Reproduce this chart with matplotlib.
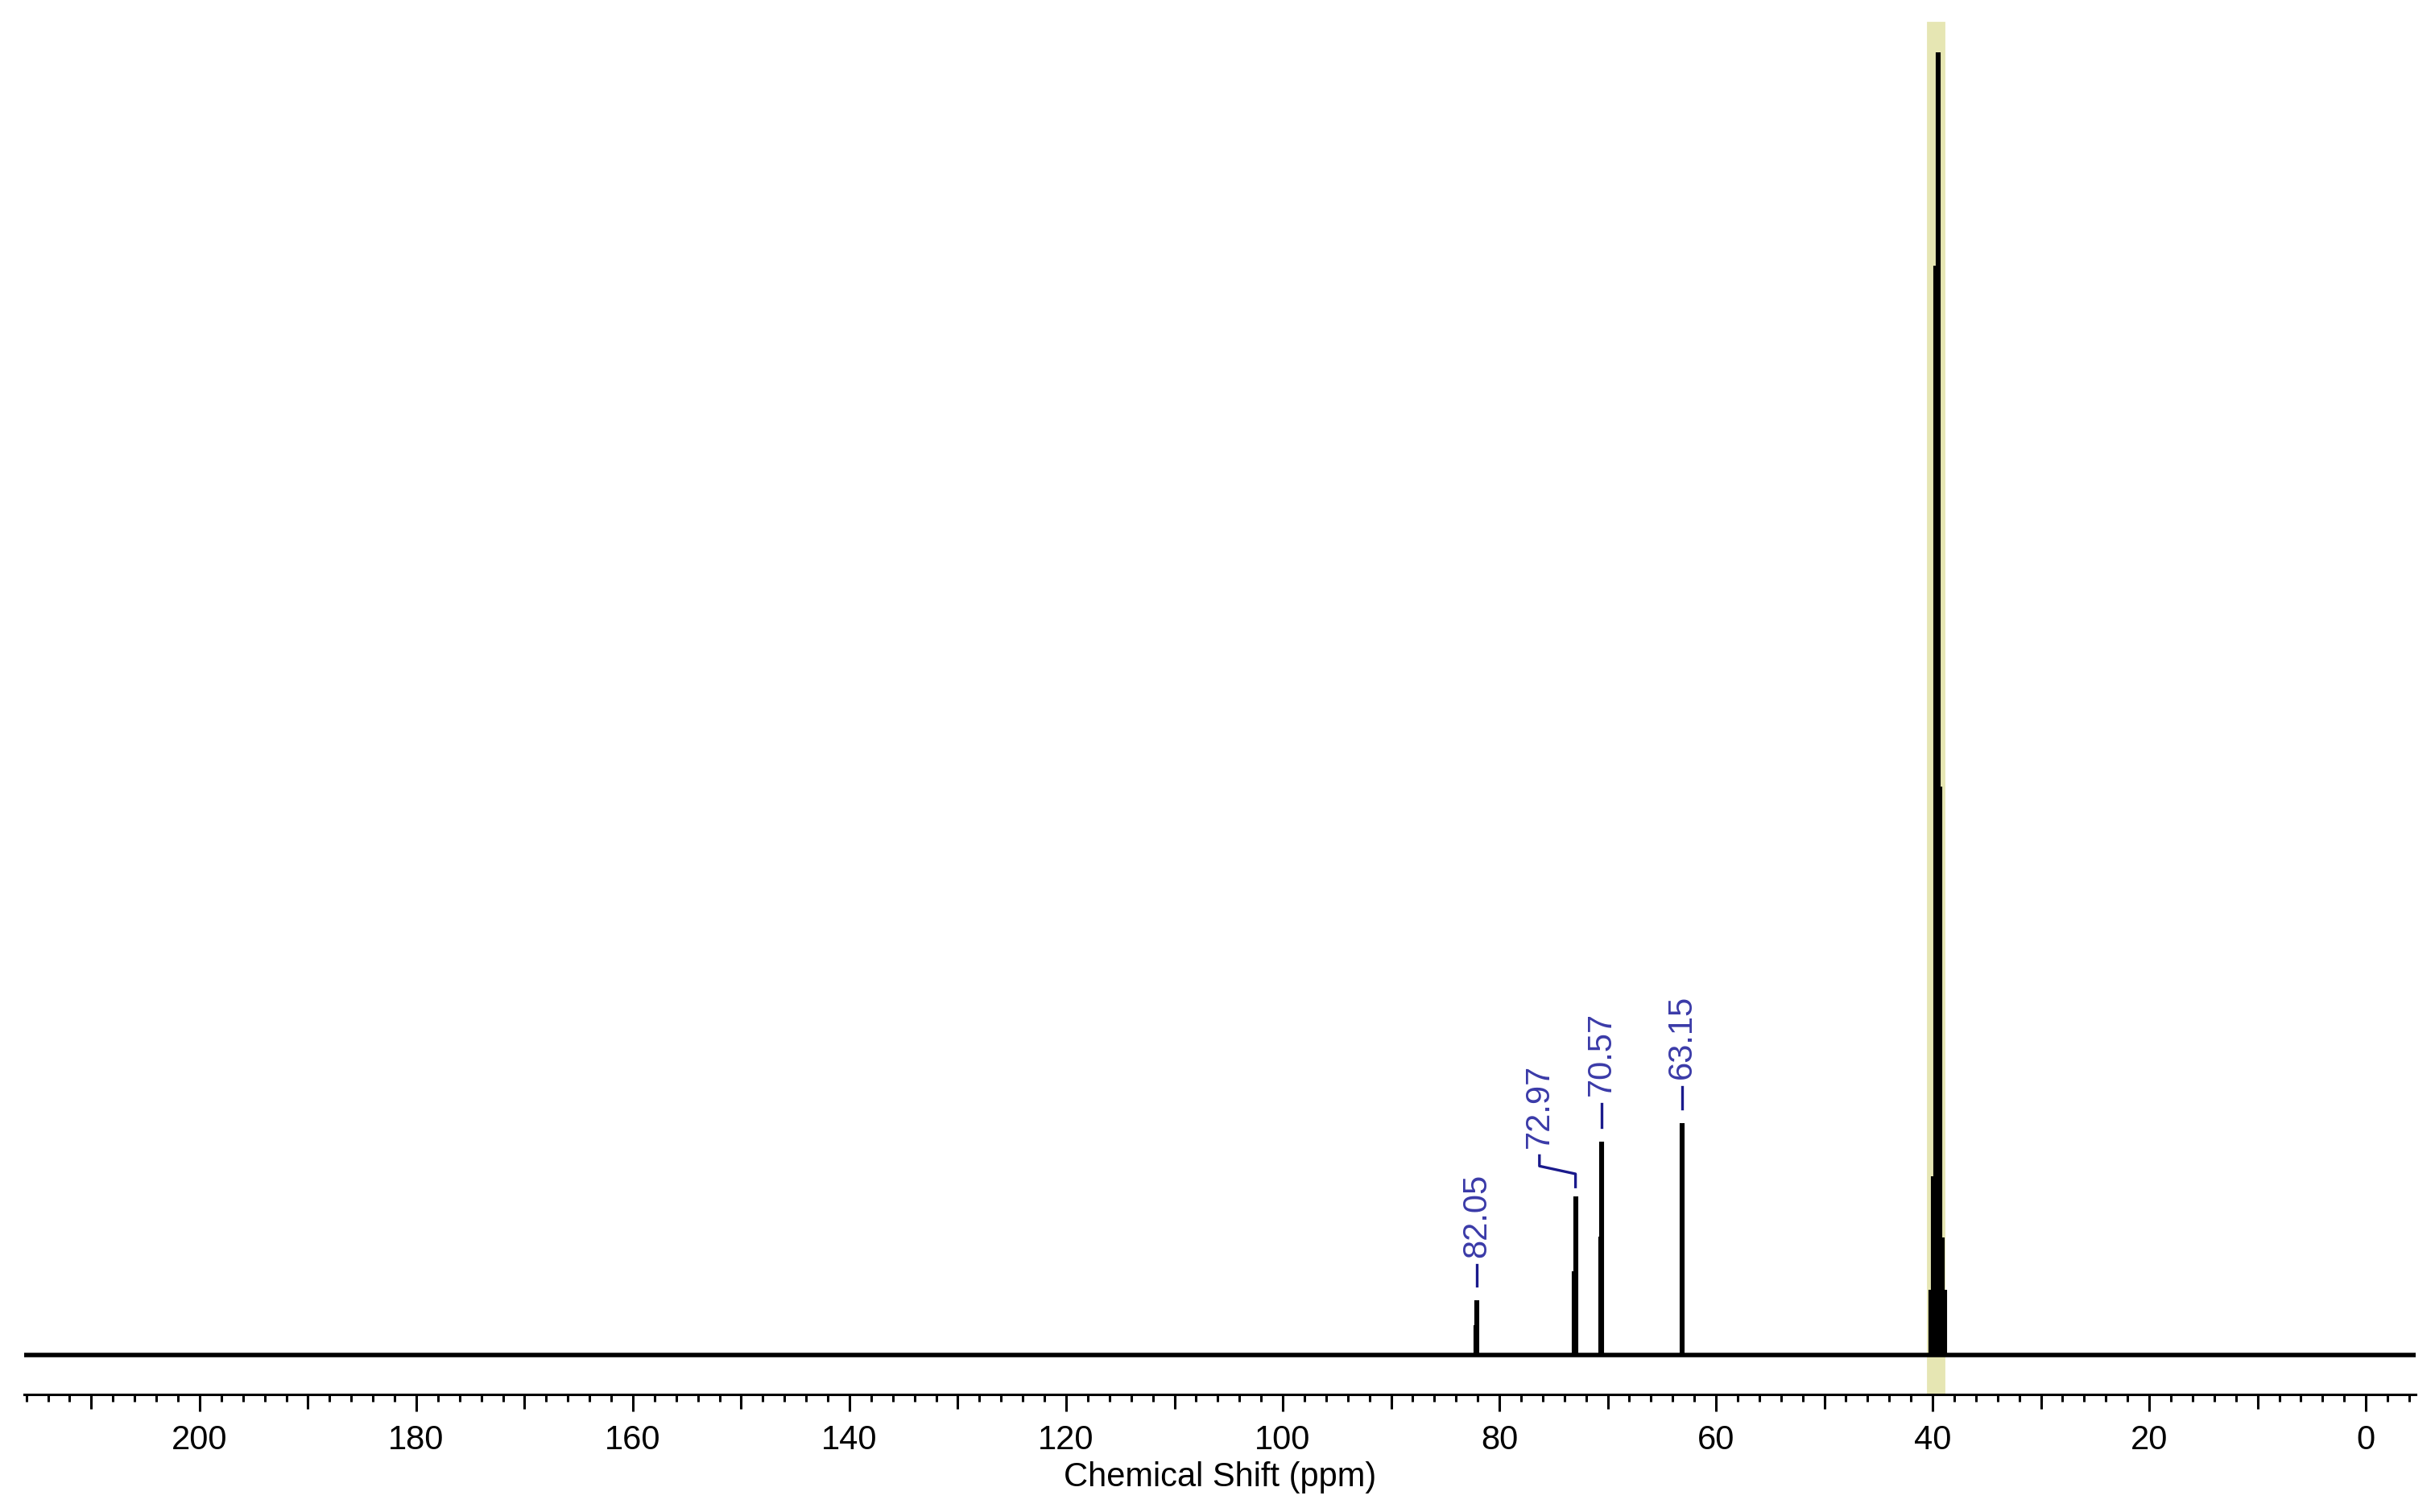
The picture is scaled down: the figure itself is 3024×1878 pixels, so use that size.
import matplotlib.pyplot as plt
from matplotlib.ticker import MultipleLocator

plt.rcParams['font.family'] = ['Liberation Sans', 'DejaVu Sans']

# peak positions (ppm) and relative heights
peak_ppm = [82.05, 82.15, 72.97, 73.07, 70.57, 70.67, 63.15,
            40.13, 39.92, 39.71, 39.52, 39.31, 39.10, 38.89]
peak_height = [0.042, 0.023, 0.122, 0.064, 0.164, 0.091, 0.178,
               0.05, 0.137, 0.836, 1.0, 0.436, 0.09, 0.05]

# labelled peaks: value, text x (ppm), text bottom (y)
label_ppm = [82.05, 72.97, 70.57, 63.15]
label_text_x = [82.05, 76.3, 70.57, 63.15]
label_peak_top = [0.042, 0.122, 0.164, 0.178]
label_y = [0.075, 0.159, 0.199, 0.212]

solvent_band = (40.45, 39.0)

fig = plt.figure(figsize=(15.12, 9.39), dpi=200)
ax = fig.add_axes([30 / 3024, 146 / 1878, 2970 / 3024, 1732 / 1878])

ax.axvspan(solvent_band[0], solvent_band[1], ymax=(1.023 + 0.0303) / (1.040 + 0.0303),
           color='#e6e6b3', zorder=0)

ax.axhline(0, color='black', lw=2.0, zorder=2)
ax.vlines(peak_ppm, 0, peak_height, color='black', lw=2.2, zorder=3)

lead = '#1a1a8c'
for p, tx, top, ty in zip(label_ppm, label_text_x, label_peak_top, label_y):
    if tx == p:
        ax.plot([p, p], [top + 0.011, ty - 0.006], color=lead, lw=1.2)
    else:
        ax.plot([p, p, tx, tx], [top + 0.007, top + 0.017, ty - 0.014, ty - 0.006],
                color=lead, lw=1.2)
    ax.text(tx, ty, f'{p:.2f}', rotation=90, ha='center', va='bottom',
            color='#3a3aa8', fontsize=15)

ax.set_xlim(216.2, -4.6)
ax.set_ylim(-0.0303, 1.040)
ax.set_yticks([])
for s in ['left', 'right', 'top']:
    ax.spines[s].set_visible(False)
ax.spines['bottom'].set_linewidth(1.1)

ax.xaxis.set_major_locator(MultipleLocator(20))
ax.xaxis.set_minor_locator(MultipleLocator(2))
ax.tick_params(axis='x', which='major', length=7.5, width=1.1, labelsize=15, pad=6)
ax.tick_params(axis='x', which='minor', length=3.2, width=1.1)
ax.set_xlabel('Chemical Shift (ppm)', fontsize=15, labelpad=2)

# medium ticks every 10 ppm
sec = ax.secondary_xaxis('bottom')
sec.set_xticks(list(range(10, 220, 20)))
sec.set_xticklabels([])
sec.tick_params(length=6.5, width=1.1)
sec.spines['bottom'].set_visible(False)

fig.savefig('out.png', dpi=200)
